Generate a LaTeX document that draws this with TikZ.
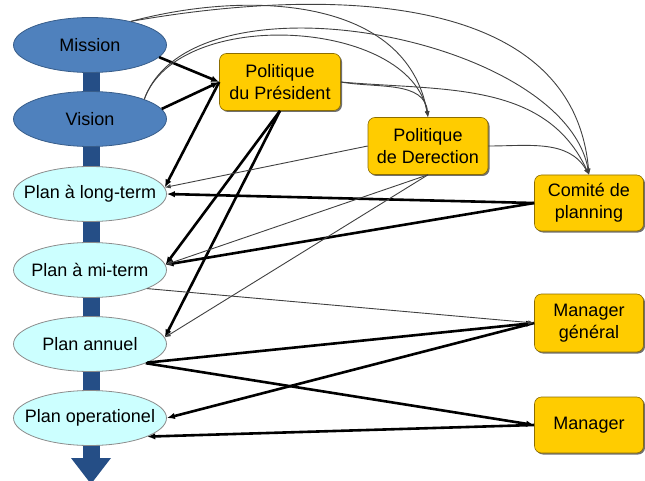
\documentclass[tikz,border=0pt]{standalone}
\usepackage{fontspec}
\setmainfont{Liberation Sans}
\usetikzlibrary{shapes.geometric,arrows.meta,shadows}
\definecolor{bleu}{HTML}{4F81BD}
\definecolor{bleubord}{HTML}{385D8A}
\definecolor{bleubarre}{HTML}{254E86}
\definecolor{cyanclair}{HTML}{CCFFFF}
\definecolor{jaune}{HTML}{FFCC00}
\definecolor{jaunebord}{HTML}{8C6D00}

\begin{document}
\begin{tikzpicture}[x=1pt,y=1pt,font=\fontsize{18}{22}\selectfont,
	ovale/.style={ellipse,draw=bleubord,line width=0.8pt,minimum width=153pt,minimum height=55pt,inner xsep=-14pt,inner ysep=0pt},
	fonce/.style={ovale,fill=bleu},
	clair/.style={ovale,fill=cyanclair,draw=black!45},
	boite/.style={rectangle,rounded corners=7pt,fill=jaune,draw=jaunebord,line width=0.6pt,minimum width=121pt,minimum height=57pt,align=center,inner sep=0pt,drop shadow={shadow xshift=1.5pt,shadow yshift=-1.5pt,fill=black!70,opacity=0.8}},
	petite/.style={boite,minimum width=109pt,minimum height=56pt},
	fort/.style={line width=2.6pt,-{Latex[length=8pt,width=6.5pt]}},
	fin/.style={line width=0.9pt,draw=black!75,-{Latex[length=6pt,width=4.5pt]}}]
	\useasboundingbox (0,0) rectangle (645,480);
	% barre verticale
	\fill[bleubarre] (83,435) rectangle (100,22);
	\fill[bleubarre] (71,22) -- (111,22) -- (91,-4) -- cycle;
	% ovales
	\node[fonce] (mission) at (90,435) {Mission};
	\node[fonce] (vision) at (90,361) {Vision};
	\node[clair] (longt) at (90,286) {Plan à long-term};
	\node[clair] (midt) at (90,210) {Plan à mi-term};
	\node[clair] (annuel) at (90,136) {Plan annuel};
	\node[clair] (operat) at (90,62) {Plan operationel};
	% boites
	\node[boite] (pres) at (280,398) {Politique\\du Président};
	\node[boite,minimum width=120pt] (dir) at (428,334) {Politique\\de Derection};
	\node[petite] (comite) at (589,277) {Comité de\\planning};
	\node[petite,minimum height=58pt] (mgen) at (589,157) {Manager\\général};
	\node[petite] (mgr) at (589,55) {Manager};
	% liens forts
	\draw[fort] (mission.-10) -- (pres.west);
	\draw[fort] (vision.8) -- (pres.west);
	\draw[fort] (pres.west) -- (longt.5);
	\draw[fort] (pres.south) -- (midt.4);
	\draw[fort] (pres.south) -- (annuel.5);
	\draw[fort] (comite.west) -- (longt.east);
	\draw[fort] (comite.west) -- (midt.4);
	\draw[fort] (annuel.-18) -- (mgen.west);
	\draw[fort] (annuel.-19) -- (mgr.west);
	\draw[fort] (mgen.west) -- (operat.east);
	\draw[fort] (mgr.west) -- (operat.-18);
	% liens fins
	\draw[fin] (dir.west) -- (longt.5);
	\draw[fin] (dir.south) -- (midt.4);
	\draw[fin] (dir.south) -- (annuel.5);
	\draw[fin] (midt.-18) -- (mgen.west);
	\draw[fin] (mission.30) to[out=10,in=95] (comite.north);
	\draw[fin] (mission.30) to[out=15,in=100] (dir.north);
	\draw[fin] (vision.20) to[out=70,in=100,looseness=0.8] (comite.north);
	\draw[fin] (vision.20) to[out=70,in=100,looseness=0.9] (dir.north);
	\draw[fin] (pres.east) to[out=-5,in=115] (comite.north);
	\draw[fin] (pres.east) to[out=-10,in=95] (dir.north);
	\draw[fin] (dir.east) to[out=0,in=120] (comite.north);
\end{tikzpicture}
\end{document}
